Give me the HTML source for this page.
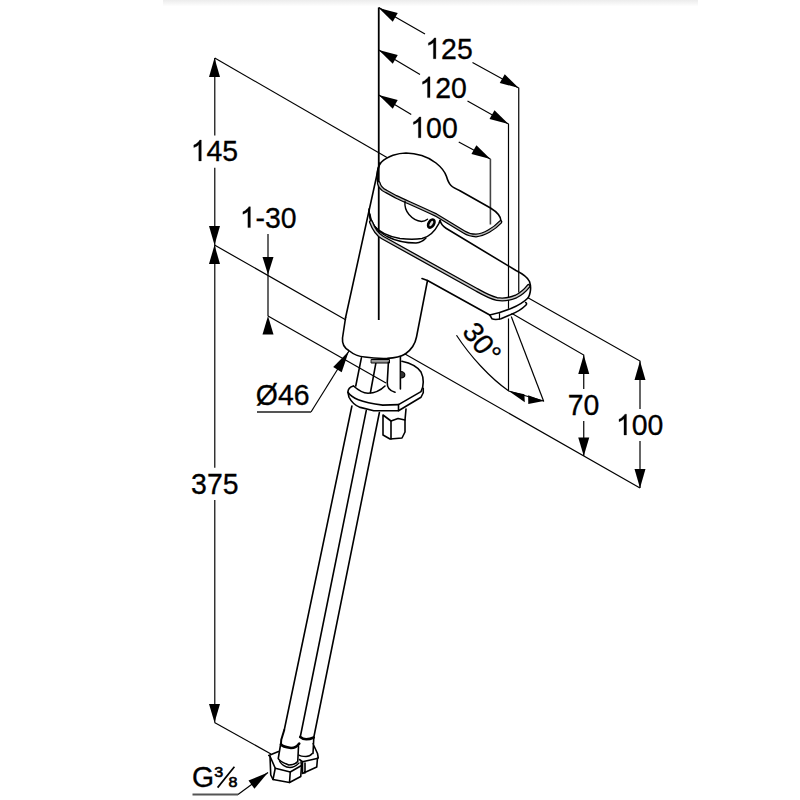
<!DOCTYPE html>
<html><head><meta charset="utf-8">
<style>
html,body{margin:0;padding:0;background:#fff;width:800px;height:800px;overflow:hidden}
svg{position:absolute;left:0;top:0}
text{font-family:"Liberation Sans",sans-serif;font-size:28px;fill:#000}
</style></head><body>
<svg width="800" height="800" viewBox="0 0 800 800">
<defs>
<linearGradient id="tg" x1="0" y1="0" x2="0" y2="1">
<stop offset="0" stop-color="#ececec"/><stop offset="1" stop-color="#fff"/>
</linearGradient>
</defs>
<rect x="163" y="0" width="535" height="6.5" fill="url(#tg)"/>

<!-- ============ DIMENSIONS ============ -->
<g stroke="#000" stroke-width="1.2" fill="none">
  <!-- V1 145/375 -->
  <path d="M214.75,58V135.6M214.75,167.8V467.7M214.75,500V722.5" stroke="#2a2a2a" stroke-width="1.4"/>
  <!-- line1 -->
  <path d="M214.75,58L387,157.5"/>
  <!-- line2 base -->
  <path d="M214.5,245L346,320M405,354L640,488"/>
  <!-- V2 1-30 -->
  <path d="M268,234V316"/>
  <!-- line3 -->
  <path d="M268,316L386,383"/>
  <!-- bottom ext -->
  <path d="M214.5,722.5L271,754"/>
  <!-- 125 -->
  <path d="M378.75,7.5L425,34M472.5,62.5L518.75,88V292.5"/>
  <!-- 120 -->
  <path d="M378.75,50L420,74.5M467.5,101L508.5,124V308.8M508.5,318.4V391"/>
  <!-- 100 -->
  <path d="M378.75,95L411.25,114.5M458.75,142L490.4,159"/>
  <!-- 70 -->
  <path d="M512,313.5L583.75,355V389M583.75,421V456"/>
  <!-- 100 right -->
  <path d="M527.5,297.5L640,361V409M640,441V488"/>
  <!-- 30 deg -->
  <path d="M511.25,316.5L543.75,401.5"/>
  <path d="M456.5,335.25C470,356 490,378 508.75,391L543.75,401"/>
  <!-- Ø46 leader -->
  <path d="M311,412L349,351"/>
  <!-- G leader -->
  <path d="M238,794.5L268,772.5"/>
</g>
<path d="M257,412H311M192.5,794.5H238" stroke="#555" stroke-width="2" fill="none"/>
<path d="M490.4,159V224.5" stroke="#444" stroke-width="1.6" fill="none"/>
<!-- center line -->
<path d="M378.75,7.5V320" stroke="#000" stroke-width="1.8" fill="none"/>

<!-- arrowheads -->
<g fill="#000" stroke="none">
  <!-- V1 -->
  <path d="M214.5,58L209,77L220,77Z"/>
  <path d="M214.5,245L209,226L220,226Z"/>
  <path d="M214.5,245L209,264L220,264Z"/>
  <path d="M214.5,722.5L209,704L220,704Z"/>
  <!-- V2 -->
  <path d="M268,274.5L262.5,257L273.5,257Z"/>
  <path d="M268,316L262.5,334.5L273.5,334.5Z"/>
  <!-- 70 -->
  <path d="M583.75,355L578.25,374L589.25,374Z"/>
  <path d="M583.75,456L578.25,437.5L589.25,437.5Z"/>
  <!-- 100 -->
  <path d="M640,361L634.5,380L645.5,380Z"/>
  <path d="M640,488L634.5,469L645.5,469Z"/>
</g>
<g fill="#000"><path d="M378.75,8.00L392.77,21.77L397.73,13.09Z"/>
<path d="M518.75,88.00L504.73,74.23L499.77,82.91Z"/>
<path d="M378.75,50.00L392.78,63.76L397.73,55.07Z"/>
<path d="M508.50,124.00L494.47,110.24L489.52,118.93Z"/>
<path d="M378.75,95.00L392.75,108.79L397.72,100.11Z"/>
<path d="M490.40,159.00L476.40,145.21L471.43,153.89Z"/>
<path d="M508.75,391L524.4,394.2L524.8,402.3Z"/>
<path d="M543.75,401L528.1,395.2L528.3,403.9Z"/>
<path d="M348.80,351.30L333.19,366.91L341.68,372.19Z"/>
<path d="M268.00,772.50L248.51,780.59L254.43,788.65Z"/></g>

<g transform="translate(425.30,58.70) scale(1.015,1.08)" stroke="#000" stroke-width="0.3"><path transform="translate(0.00,0)" d="M10.43,0H7.97V-15.07L7.08,-14.25L5.63,-13.44L4.27,-12.82L3.06,-12.37V-14.65L5.13,-15.58L6.67,-16.91L8.23,-18.24L8.87,-19.26H10.43Z"/><text x="15.57" y="0">25</text></g>
<g transform="translate(419.40,97.60) scale(1.015,1.08)" stroke="#000" stroke-width="0.3"><path transform="translate(0.00,0)" d="M10.43,0H7.97V-15.07L7.08,-14.25L5.63,-13.44L4.27,-12.82L3.06,-12.37V-14.65L5.13,-15.58L6.67,-16.91L8.23,-18.24L8.87,-19.26H10.43Z"/><text x="15.57" y="0">20</text></g>
<g transform="translate(410.30,137.75) scale(1.015,1.08)" stroke="#000" stroke-width="0.3"><path transform="translate(0.00,0)" d="M10.43,0H7.97V-15.07L7.08,-14.25L5.63,-13.44L4.27,-12.82L3.06,-12.37V-14.65L5.13,-15.58L6.67,-16.91L8.23,-18.24L8.87,-19.26H10.43Z"/><text x="15.57" y="0">00</text></g>
<g transform="translate(190.70,160.90) scale(1.015,1.08)" stroke="#000" stroke-width="0.3"><path transform="translate(0.00,0)" d="M10.43,0H7.97V-15.07L7.08,-14.25L5.63,-13.44L4.27,-12.82L3.06,-12.37V-14.65L5.13,-15.58L6.67,-16.91L8.23,-18.24L8.87,-19.26H10.43Z"/><text x="15.57" y="0">45</text></g>
<g transform="translate(239.80,227.60) scale(1.015,1.08)" stroke="#000" stroke-width="0.3"><path transform="translate(0.00,0)" d="M10.43,0H7.97V-15.07L7.08,-14.25L5.63,-13.44L4.27,-12.82L3.06,-12.37V-14.65L5.13,-15.58L6.67,-16.91L8.23,-18.24L8.87,-19.26H10.43Z"/><text x="15.57" y="0">-30</text></g>
<g transform="translate(255.80,405.00) scale(1.015,1.08)" stroke="#000" stroke-width="0.3"><text x="0.00" y="0">Ø46</text></g>
<g transform="translate(191.10,493.60) scale(1.015,1.08)" stroke="#000" stroke-width="0.3"><text x="0.00" y="0">375</text></g>
<g transform="translate(567.75,415.00) scale(1.015,1.08)" stroke="#000" stroke-width="0.3"><text x="0.00" y="0">70</text></g>
<g transform="translate(615.90,435.00) scale(1.015,1.08)" stroke="#000" stroke-width="0.3"><path transform="translate(0.00,0)" d="M10.43,0H7.97V-15.07L7.08,-14.25L5.63,-13.44L4.27,-12.82L3.06,-12.37V-14.65L5.13,-15.58L6.67,-16.91L8.23,-18.24L8.87,-19.26H10.43Z"/><text x="15.57" y="0">00</text></g>
<g transform="translate(191.95,787.15) scale(1.015,1.08)" stroke="#000" stroke-width="0.3"><text x="0.00" y="0">G</text></g>
<text transform="translate(214.37,776.72) scale(1.15,1)" style="font-size:14px" stroke="#000" stroke-width="0.6">3</text>
<text transform="translate(228.52,787.22) scale(1.15,1)" style="font-size:14px" stroke="#000" stroke-width="0.6">8</text>
<path d="M217.6,787.6L234.4,766.8" stroke="#000" stroke-width="1.7"/>
<g transform="translate(473.6,332.2) rotate(52) translate(-7.7,9.64) scale(1.0,1.02)" stroke="#000" stroke-width="0.3"><text x="0" y="0">30°</text></g>
<g fill="none" stroke-linejoin="round" stroke-linecap="round">
<path d="M379.5,186C377.5,183 377,178 377.1,175C377.3,169 379,165 381.25,162.25C384,159.5 388,157 393,155.2C397.5,153.8 401.5,153.1 406,153C416,153 428,156.5 436,163C441,167 445,172 446.5,176.5C447.5,180 448.5,183 451,185.5C453,187.5 456,189 459.5,190.5L490.5,208C497,212 501,216 501,221" stroke="#000" stroke-width="1.6" />
<path d="M378.7,183C379.5,186.5 382,189.5 386,191.3L396,196.8C405,201 420,207.5 436,215L464,232C468,234.5 472,235.5 476,235.5C484,235 494,229 500.5,222" stroke="#000" stroke-width="3.8"/>
<path d="M378.7,183C379.5,186.5 382,189.5 386,191.3L396,196.8C405,201 420,207.5 436,215L464,232C468,234.5 472,235.5 476,235.5C484,235 494,229 500.5,222" stroke="#b8b8b8" stroke-width="1.3"/>
<path d="M405,201.25C404.5,206 406,211 409,214.5C412,218 416,221 421.5,221.5C424,221.5 426,220.5 427.5,219.25" stroke="#000" stroke-width="1.4" />
<ellipse cx="431.3" cy="223.6" rx="4.4" ry="2.6" transform="rotate(-58 431.3 223.6)" stroke="#000" stroke-width="2.6" fill="#ddd"/>
<path d="M379.5,163L345.6,317.5" stroke="#000" stroke-width="1.6" />
<path d="M369,209C369,216 370,221 373,225C379,232 388,236.5 400,238.5C408,239.5 416,239.5 422,238.5C429,237 435,231 438.75,223.75L440,220.6" stroke="#000" stroke-width="1.6" />
<path d="M370,214C371,223 377,231 387,236.5C396,241 407,243 416,243C420.5,242.5 423.5,240.8 426,238" stroke="#000" stroke-width="1.4" />
<path d="M371,222C374,230 378,235 382.5,237.5L476,289.5C484,294 490,297.5 497,299C503,300 510,299 516,296.5C521,294 525.5,290 528.6,286" stroke="#000" stroke-width="4.1"/>
<path d="M371,222C374,230 378,235 382.5,237.5L476,289.5C484,294 490,297.5 497,299C503,300 510,299 516,296.5C521,294 525.5,290 528.6,286" stroke="#c8c8c8" stroke-width="1.5"/>
<path d="M440,220.6C441,224 443,226.5 446,228.3L516,270.5C522,273.5 527.5,277 529.5,281.5C530.5,284.5 530.6,290 530.2,292C529.8,294.5 529.2,296 528.2,297.75C524,302 517,306 511.5,308.25C505,311 498,313.3 489.75,315" stroke="#000" stroke-width="1.6" />
<path d="M422,278.5L427.5,280.5L489.75,315" stroke="#000" stroke-width="1.6" />
<path d="M489.75,315L492,318.75C494,319.6 497,319.6 501,318.75L511.5,314.25" stroke="#000" stroke-width="1.5" />
<path d="M499.5,313.5V319.2" stroke="#000" stroke-width="1.2" />
<path d="M511.5,314.25C517,312 522,309 525.5,305.5C527,304 527,303 525.5,302.5" stroke="#000" stroke-width="1.5" />
<path d="M427.5,280.5L416.5,337C415,345 411,350 405.25,354" stroke="#000" stroke-width="1.6" />
<path d="M345.6,317.5L342.5,338C342,344 344.5,348 348.75,350.5C353,354 358,356.5 364.75,357C372,358.2 380,358.6 387.25,358.4C395,358 401,356.5 405.25,354" stroke="#000" stroke-width="1.6" />
<path d="M361.4,357.9L355.75,386" stroke="#000" stroke-width="1.6" />
<path d="M376,362.4L370.4,392.75" stroke="#000" stroke-width="1.6" />
<rect x="371.5" y="359.5" width="18" height="3.5" fill="#999" stroke="#000" stroke-width="1"/>
<path d="M388.4,362.4L387.25,382.6C387,388 390,391 395,392.2" stroke="#000" stroke-width="1.6" />
<path d="M400.4,356.5V389" stroke="#000" stroke-width="1.6" />
<path d="M400.6,371.5C403.6,371.5 404.8,373.5 404.8,374.8C404.8,376.3 403.6,378 400.6,378" fill="#333" stroke="#000" stroke-width="1.2"/>
<path d="M353.5,386C350,387 348,389 347.9,392.2C352,398 360,402 382.75,405.1L398.5,404.6L421,391.6C424,386 424,378 421,372C417,366 410,363 401.9,361.25" stroke="#000" stroke-width="1.6" />
<path d="M353.5,386C358,390 362,393 368,393.3C375,393 381,390 385,386" stroke="#000" stroke-width="1.6" />
<path d="M347.9,392.2L349,397.25C352,403 356,406 360.25,407.4L373.75,410.75L398.5,410.75V404.6" stroke="#000" stroke-width="1.6" />
<path d="M398.5,410.75L421,397.25L423.25,392.75V388.25" stroke="#000" stroke-width="1.6" />
<path d="M383,415L391,421L398,418.5L405,420V432L402,438L390,439L383,435Z" stroke="#000" stroke-width="1.6" />
<path d="M391,421V439M405,420L406,409" stroke="#000" stroke-width="1.6" />
<path d="M351.9,406L284.25,730" stroke="#000" stroke-width="1.6" />
<path d="M366.25,410.6L300.25,737" stroke="#000" stroke-width="1.6" />
<path d="M379.4,412.5L313.75,737.5" stroke="#000" stroke-width="1.6" />
<path d="M280.9,744.25C282,746 285,747.2 291,748C294,748 297,747 299.25,743.5" stroke="#000" stroke-width="2.6" />
<path d="M284.25,730L281.25,739.75L280.9,744.5" stroke="#000" stroke-width="2.0" />
<path d="M280.5,745L278.25,758.5C279,760.5 281,762 288.75,765C292,765 296,763.5 297.75,761.5L298.5,746.5" stroke="#000" stroke-width="1.6" />
<path d="M279.5,761C281,764 285,767.5 290,767.5C294,767.5 297,765 299,763" stroke="#000" stroke-width="1.3" />
<path d="M268.75,755.5L278.5,751.5" stroke="#000" stroke-width="1.6" />
<path d="M270,756.25L275.25,768.25L290.25,772L301.5,765.5" stroke="#000" stroke-width="1.6" />
<path d="M270,756.25L270.75,775L273,779.5L289.5,782.5L300.75,776.5L301.5,765.5L301,762" stroke="#000" stroke-width="1.6" />
<path d="M275.25,768.25L273,779.5M290.25,772L289.5,782.5" stroke="#000" stroke-width="1.6" />
<path d="M300.25,737C302,738.5 304,739.25 306.25,739.25C309,739.25 311.5,738.5 313.75,737.5" stroke="#000" stroke-width="2.6" />
<path d="M313.75,738.5L313,753.5M313,743.75L317.5,753.5L318.25,758" stroke="#000" stroke-width="1.6" />
<path d="M298.75,755C300,756 302,756.5 306,756.5C309,756.5 311,755 312.25,753.5" stroke="#000" stroke-width="1.4" />
<path d="M299.5,759.5L302.5,761.75L317,758.5" stroke="#000" stroke-width="1.6" />
<path d="M317.5,758L316.75,767L302.5,773.5V762.5M305,763V773" stroke="#000" stroke-width="1.6" />
</g>
</svg>
</body></html>
